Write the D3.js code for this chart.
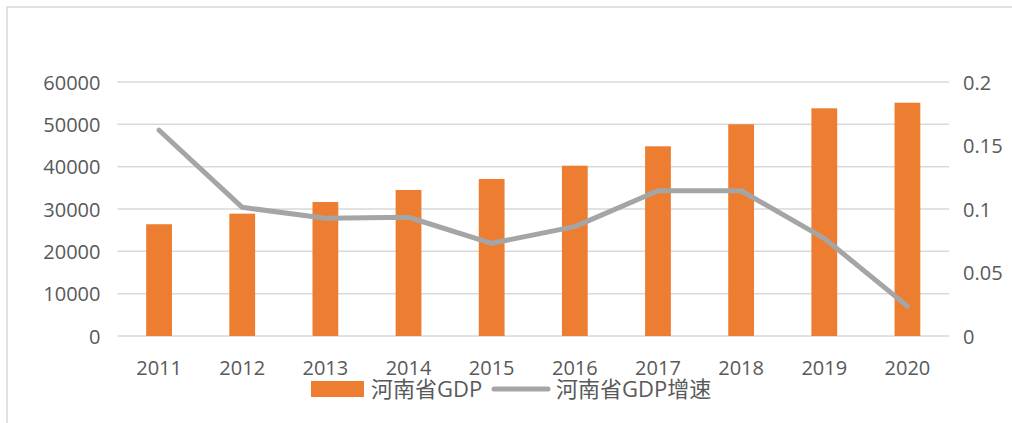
<!DOCTYPE html>
<html>
<head>
<meta charset="utf-8">
<script src="https://cdn.jsdelivr.net/npm/d3@7"></script>
<style>
  body { margin: 0; background: #fff; }
  text { font-family: "Open Sans", "Noto Sans CJK SC", sans-serif; fill: #595959; }
  .grid { stroke: #d9d9d9; stroke-width: 1.5; }
</style>
</head>
<body>
<div class="chart"></div>
<script>
// data
var years = ["2011", "2012", "2013", "2014", "2015", "2016", "2017", "2018", "2019", "2020"];
var gdp = [26400, 28900, 31650, 34490, 37090, 40230, 44810, 50010, 53790, 55110];
var growth = [0.162, 0.1013, 0.0927, 0.0935, 0.073, 0.0861, 0.1144, 0.1144, 0.0769, 0.0235];
var leftTicks = [0, 10000, 20000, 30000, 40000, 50000, 60000];
var rightTicks = [0, 0.05, 0.1, 0.15, 0.2];
var seriesNames = ["河南省GDP", "河南省GDP增速"];

var width = 1012, height = 423;
var plot = { left: 117.5, right: 949, top: 82, bottom: 336 };

var svg = d3.select(".chart").append("svg")
  .attr("width", width)
  .attr("height", height);

// outer frame (only top and left visible)
svg.append("rect")
  .attr("x", 7).attr("y", 7)
  .attr("width", width + 20).attr("height", height + 20)
  .attr("fill", "none")
  .attr("stroke", "#d9d9d9")
  .attr("stroke-width", 1.5);

// scales
var x = d3.scaleBand().domain(years).range([plot.left, plot.right]).paddingInner(0.69).paddingOuter(0.345);
var yL = d3.scaleLinear().domain([0, 60000]).range([plot.bottom, plot.top]);
var yR = d3.scaleLinear().domain([0, 0.2]).range([plot.bottom, plot.top]);

// gridlines
svg.selectAll(".grid")
  .data(leftTicks)
  .enter().append("line")
  .attr("class", "grid")
  .attr("x1", plot.left)
  .attr("x2", plot.right)
  .attr("y1", function (d) { return yL(d); })
  .attr("y2", function (d) { return yL(d); });

// left axis
var axL = svg.append("g")
  .attr("transform", "translate(" + (plot.left - 17) + ",0)")
  .call(d3.axisLeft(yL).tickValues(leftTicks).tickSize(0).tickFormat(d3.format("d")));
axL.select(".domain").remove();
axL.selectAll("text").attr("font-size", 20).attr("dy", "0.35em").attr("x", 0);

// right axis
var axR = svg.append("g")
  .attr("transform", "translate(" + (plot.right + 14) + ",0)")
  .call(d3.axisRight(yR).tickValues(rightTicks).tickSize(0).tickFormat(function (d) { return String(d); }));
axR.select(".domain").remove();
axR.selectAll("text").attr("font-size", 20).attr("dy", "0.35em").attr("x", 0);

// x axis
var axX = svg.append("g")
  .attr("transform", "translate(0," + plot.bottom + ")")
  .call(d3.axisBottom(x).tickSize(0));
axX.select(".domain").remove();
axX.selectAll("text").attr("font-size", 20).attr("dy", 0).attr("y", 39);

// bars
svg.selectAll(".bar")
  .data(gdp)
  .enter().append("rect")
  .attr("class", "bar")
  .attr("x", function (d, i) { return x(years[i]); })
  .attr("width", x.bandwidth())
  .attr("y", function (d) { return yL(d); })
  .attr("height", function (d) { return yL(0) - yL(d); })
  .attr("fill", "#ED7D31");

// growth line
var line = d3.line()
  .x(function (d, i) { return x(years[i]) + x.bandwidth() / 2; })
  .y(function (d) { return yR(d); });

svg.append("path")
  .datum(growth)
  .attr("d", line)
  .attr("fill", "none")
  .attr("stroke", "#A5A5A5")
  .attr("stroke-width", 5)
  .attr("stroke-linejoin", "round")
  .attr("stroke-linecap", "round");

// legend
var legend = svg.append("g").attr("transform", "translate(0,389)");
legend.append("rect")
  .attr("x", 311).attr("y", -8)
  .attr("width", 53).attr("height", 16)
  .attr("fill", "#ED7D31");
legend.append("text")
  .attr("x", 371).attr("dy", "0.36em")
  .attr("font-size", 22)
  .text(seriesNames[0]);
legend.append("line")
  .attr("x1", 494).attr("x2", 548)
  .attr("stroke", "#A5A5A5")
  .attr("stroke-width", 5)
  .attr("stroke-linecap", "round");
legend.append("text")
  .attr("x", 556).attr("dy", "0.36em")
  .attr("font-size", 22)
  .text(seriesNames[1]);
</script>
</body>
</html>
